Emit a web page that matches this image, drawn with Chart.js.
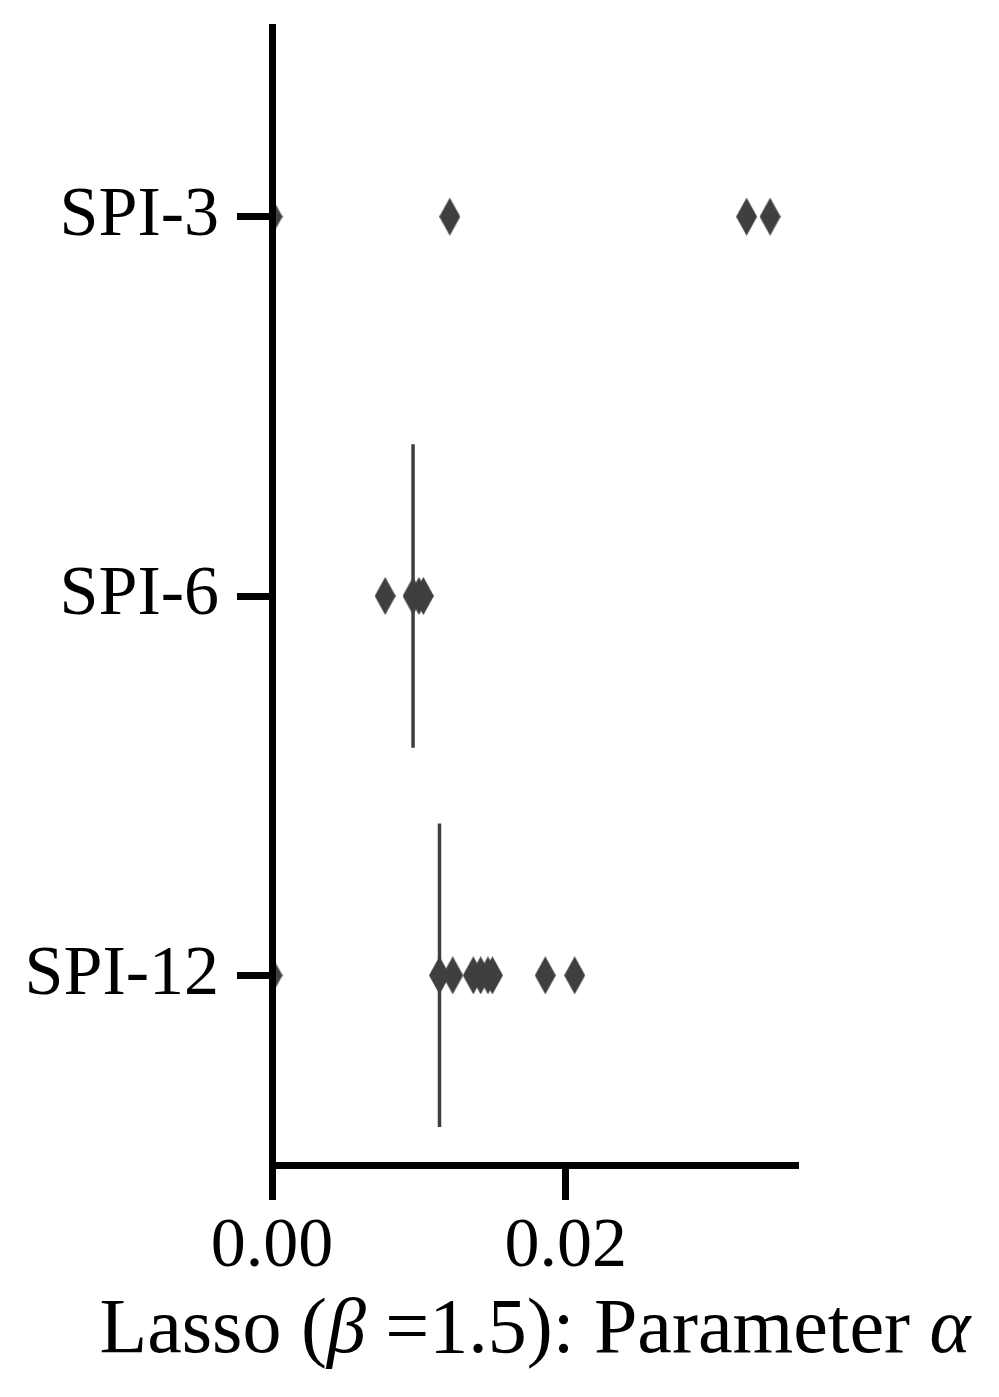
<!DOCTYPE html>
<html>
<head>
<meta charset="utf-8">
<script src="https://cdn.jsdelivr.net/npm/chart.js@4.4.1/dist/chart.umd.min.js"></script>
<style>
  html, body { margin: 0; padding: 0; background: #fff; }
  #wrap { width: 999px; height: 1397px; }
</style>
</head>
<body>
<div id="wrap"><canvas id="boxchart" width="999" height="1397"></canvas></div>
<script>
// data
const categories = ['SPI-3', 'SPI-6', 'SPI-12'];
const medians = [0, 0.0096, 0.0114];           // degenerate boxes (q1 = q3 = median)
const fliersSpi3 = [0, 0.0121, 0.0323, 0.0339];
const fliersSpi6 = [0.0077, 0.0096, 0.0100, 0.0103];
const fliersSpi12 = [0, 0.0114, 0.0123, 0.0137, 0.0142, 0.0147, 0.0150, 0.0186, 0.0206];
const xTicks = [0, 0.02];
const xTitleParts = [
  { text: 'Lasso (', italic: false },
  { text: 'β', italic: true },
  { text: ' =1.5): Parameter ', italic: false },
  { text: 'α', italic: true }
];

const ink = '#3f3f3f';
const serif = "'Liberation Serif', 'DejaVu Serif', serif";

// thin diamond marker like matplotlib's 'd'
function diamond(w, h) {
  const c = document.createElement('canvas');
  c.width = w; c.height = h;
  const g = c.getContext('2d');
  g.fillStyle = ink;
  g.beginPath();
  g.moveTo(w / 2, 0);
  g.lineTo(w, h / 2);
  g.lineTo(w / 2, h);
  g.lineTo(0, h / 2);
  g.closePath();
  g.fill();
  return c;
}
const marker = diamond(21, 38);

const flierSets = [fliersSpi3, fliersSpi6, fliersSpi12];
const datasets = [];

// box (collapsed to a line at the median)
medians.forEach((m, i) => {
  datasets.push({
    type: 'line',
    data: [{ x: m, y: i - 0.4 }, { x: m, y: i + 0.4 }],
    borderColor: ink,
    borderWidth: 3.5,
    pointRadius: 0,
    clip: 0
  });
});

// outliers
flierSets.forEach((arr, i) => {
  datasets.push({
    type: 'scatter',
    data: arr.map(v => ({ x: v, y: i })),
    pointStyle: marker,
    clip: 0
  });
});

// x-axis title with italic greek letters
const xTitlePlugin = {
  id: 'xTitle',
  afterDraw(chart) {
    const ctx = chart.ctx;
    const size = 78;
    const fonts = p => (p.italic ? 'italic ' : '') + size + 'px ' + serif;
    let total = 0;
    xTitleParts.forEach(p => { ctx.font = fonts(p); total += ctx.measureText(p.text).width; });
    let x = 535 - total / 2;
    ctx.save();
    ctx.fillStyle = '#000';
    ctx.textBaseline = 'alphabetic';
    xTitleParts.forEach(p => {
      ctx.font = fonts(p);
      ctx.fillText(p.text, x, 1352);
      x += ctx.measureText(p.text).width;
    });
    ctx.restore();
  }
};

new Chart(document.getElementById('boxchart'), {
  data: { datasets: datasets },
  options: {
    responsive: false,
    animation: false,
    layout: { padding: { top: 27, right: 201, left: 0, bottom: 0 } },
    plugins: { legend: { display: false }, tooltip: { enabled: false } },
    scales: {
      x: {
        type: 'linear',
        min: 0,
        max: 0.0358,
        afterBuildTicks: s => { s.ticks = xTicks.map(v => ({ value: v })); },
        afterFit: s => { s.height = 232; s.paddingLeft = 0; s.paddingRight = 0; },
        ticks: {
          color: '#000',
          padding: 6,
          font: { family: serif, size: 70 },
          callback: v => v.toFixed(2)
        },
        grid: { z: 1, drawOnChartArea: false, tickLength: 35, tickWidth: 7, tickColor: '#000' },
        border: { z: 1, display: true, color: '#000', width: 7 }
      },
      y: {
        type: 'linear',
        min: -0.5,
        max: 2.5,
        reverse: true,
        afterBuildTicks: s => { s.ticks = categories.map((c, i) => ({ value: i })); },
        afterFit: s => { s.width = 272; s.paddingTop = 0; s.paddingBottom = 0; },
        ticks: {
          color: '#000',
          padding: 18,
          font: { family: serif, size: 70 },
          callback: v => categories[v]
        },
        grid: { z: 1, drawOnChartArea: false, tickLength: 35, tickWidth: 7, tickColor: '#000' },
        border: { z: 1, display: true, color: '#000', width: 7 }
      }
    }
  },
  plugins: [xTitlePlugin]
});
</script>
</body>
</html>
